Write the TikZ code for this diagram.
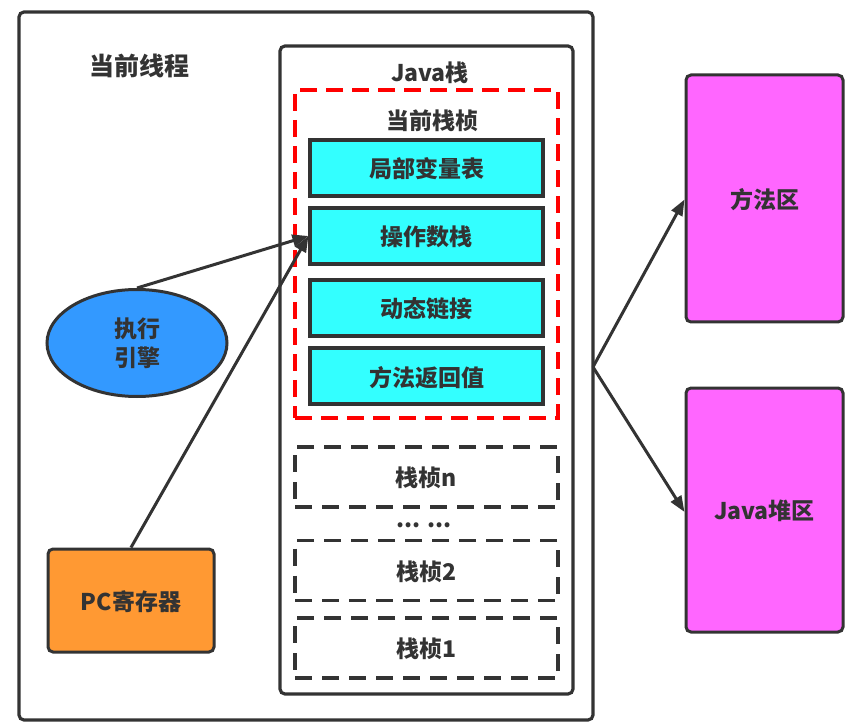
\documentclass[tikz,border=0pt]{standalone}
\usepackage{fontspec}
\setmainfont{Noto Sans CJK SC}
\usetikzlibrary{arrows.meta,shapes.geometric,positioning}
\definecolor{ink}{HTML}{333333}
\definecolor{cyanbox}{HTML}{33FFFF}
\definecolor{pinkbox}{HTML}{FF66FF}
\definecolor{engine}{HTML}{3399FF}
\definecolor{pcbox}{HTML}{FF9933}

\begin{document}
\begin{tikzpicture}[x=1pt, y=-1pt,
	every node/.style={text=ink, font=\fontsize{23}{28}\selectfont\bfseries},
	frame/.style={draw=ink, line width=3.2pt, rounded corners=5pt},
	slot/.style={draw=ink, line width=3.2pt, fill=cyanbox, minimum width=233pt, minimum height=56pt, text depth=0pt},
	ghost/.style={draw=ink, line width=3.2pt, dash pattern=on 17pt off 10pt, minimum width=263pt, minimum height=60pt, text depth=0pt},
	area/.style={draw=ink, line width=3pt, rounded corners=5pt, fill=pinkbox, minimum width=157pt},
	arr/.style={-{Triangle[length=16pt,width=12pt]}, draw=ink, line width=3pt}
]
	\useasboundingbox (0,0) rectangle (865,727);
	\node[frame, minimum width=574pt, minimum height=708pt] (thread) at (306,366) {};
	\node[font=\fontsize{25}{30}\selectfont\bfseries] (tname) at (139,66) {当前线程};
	\node[frame, minimum width=293pt, minimum height=648pt] (stack) at (426.5,370) {};
	\node (sname) at (430,73) {Java栈};
	\node[draw=red, line width=3.2pt, dash pattern=on 17pt off 9pt,
		minimum width=263pt, minimum height=328pt] (cur) at (426.5,254) {};
	\node (cname) at (432,121) {当前栈桢};
	\node[slot] (locals) at (426.5,168) {局部变量表};
	\node[slot] (opstack) at (426.5,236) {操作数栈};
	\node[slot] (dynlink) at (426.5,308) {动态链接};
	\node[slot] (retval) at (426.5,376) {方法返回值};
	\node[ghost] (fn) at (426.5,477) {栈桢n};
	\node (dots) at (424,525) {... ...};
	\node[ghost] (f2) at (426.5,570.5) {栈桢2};
	\node[ghost] (f1) at (426.5,648) {栈桢1};
	\node[ellipse, draw=ink, line width=3pt, fill=engine, minimum width=180pt,
		minimum height=107pt, align=center, font=\fontsize{23}{29}\selectfont\bfseries] (exec) at (137,343) {执行\\引擎};
	\node[draw=ink, line width=3pt, rounded corners=5pt, fill=pcbox, minimum width=166pt,
		minimum height=103pt, text depth=0pt] (pc) at (131,600.5) {PC寄存器};
	\node[area, minimum height=247pt, text depth=0pt] (method) at (764.5,198.5) {方法区};
	\node[area, minimum height=244pt, text depth=0pt] (heap) at (764.5,510) {Java堆区};
	\coordinate (fork) at (593,367);
	\draw[arr] (exec.north) -- (opstack.west);
	\draw[arr] (pc.north) -- (opstack.west);
	\draw[arr] (fork) -- ([yshift=-1pt]method.west);
	\draw[arr] (fork) -- ([yshift=-2pt]heap.west);
\end{tikzpicture}
\end{document}
